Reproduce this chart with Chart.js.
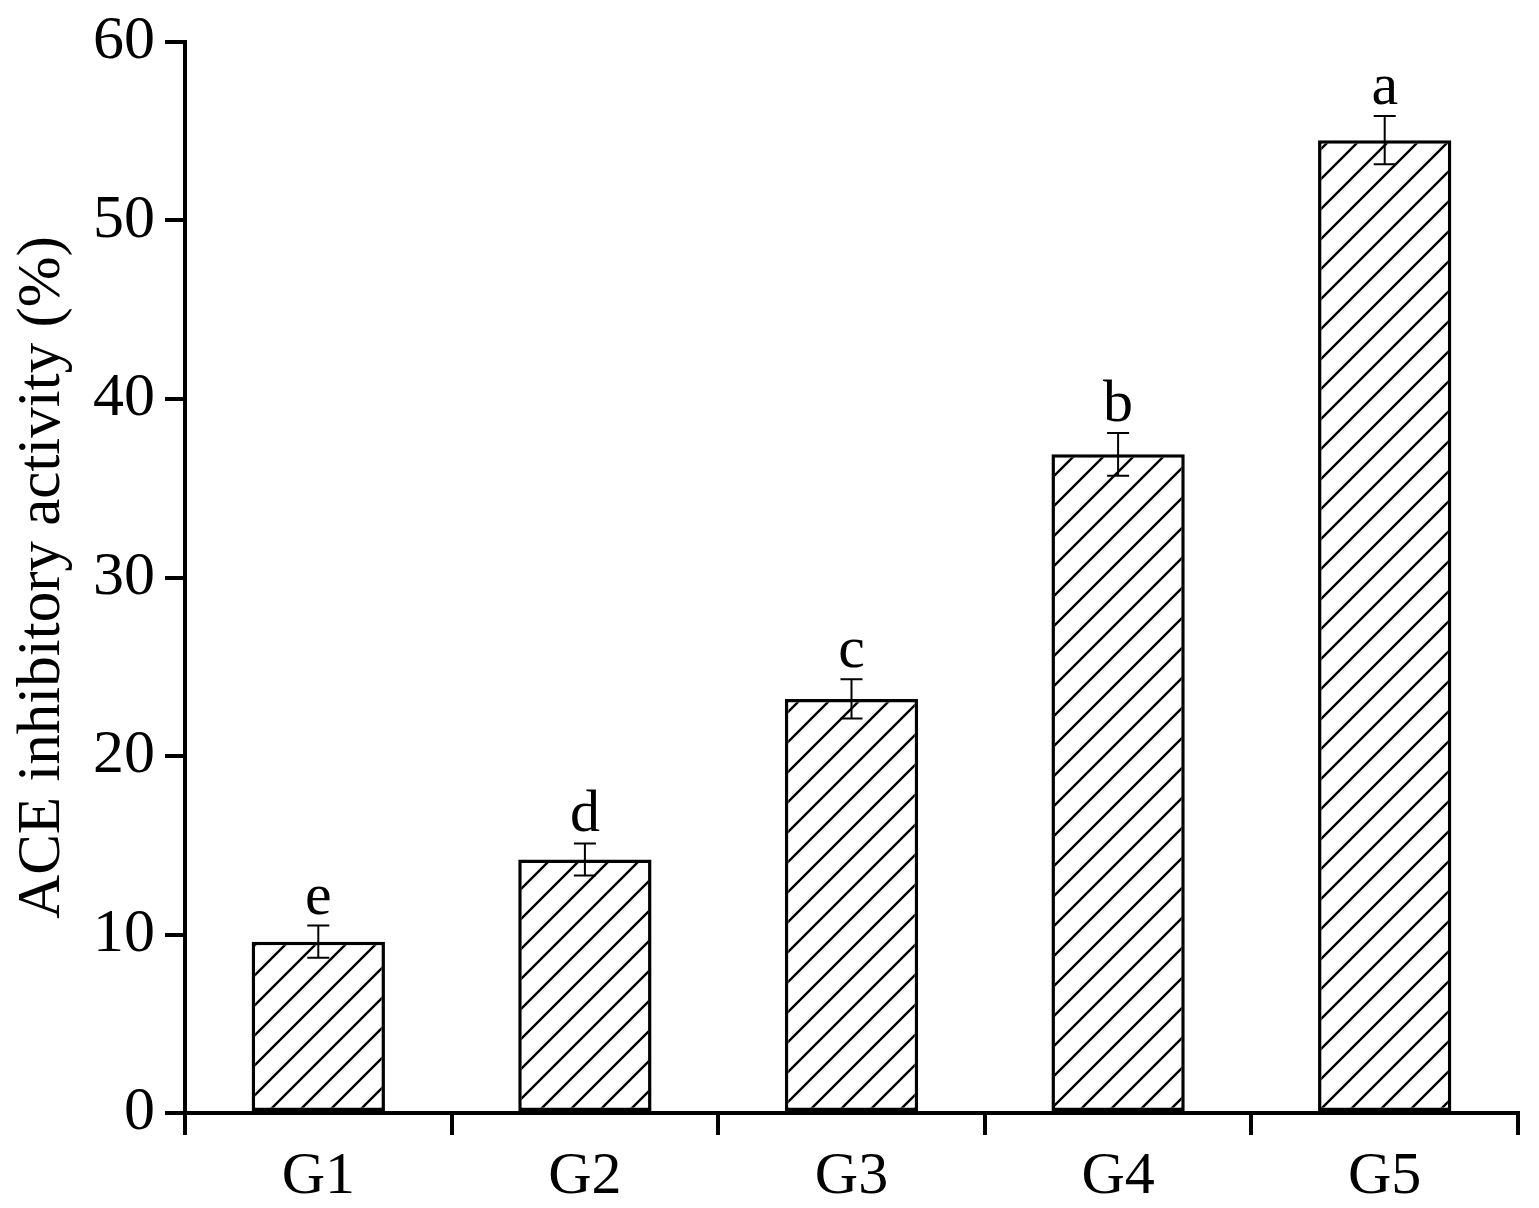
<!DOCTYPE html>
<html>
<head>
<meta charset="utf-8">
<script src="https://cdn.jsdelivr.net/npm/chart.js@4/dist/chart.umd.min.js"></script>
<style>
  html, body { margin: 0; padding: 0; background: #fff; }
  #wrap { width: 1539px; height: 1208px; }
</style>
</head>
<body>
<div id="wrap"><canvas id="chart"></canvas></div>
<script>
// data
var groups = ['G1', 'G2', 'G3', 'G4', 'G5'];
var activity = [9.6, 14.2, 23.2, 36.9, 54.5];
var errors = [0.9, 0.9, 1.1, 1.2, 1.35];
var letters = ['e', 'd', 'c', 'b', 'a'];
var yTicks = [0, 10, 20, 30, 40, 50, 60];

var FONT = '"Liberation Serif", "Times New Roman", serif';

// diagonal hatch "/" like the original
function hatch() {
  var s = 30;
  var c = document.createElement('canvas');
  c.width = s; c.height = s;
  var g = c.getContext('2d');
  g.fillStyle = '#fff';
  g.fillRect(0, 0, s, s);
  g.strokeStyle = '#000';
  g.lineWidth = 2.4;
  g.beginPath();
  g.moveTo(-2, s + 2); g.lineTo(s + 2, -2);
  g.moveTo(-2, 2); g.lineTo(2, -2);
  g.moveTo(s - 2, s + 2); g.lineTo(s + 2, s - 2);
  g.stroke();
  return g.createPattern(c, 'repeat');
}

// error bars + significance letters
var errPlugin = {
  id: 'errbars',
  afterDatasetsDraw: function(chart) {
    var ctx = chart.ctx;
    var y = chart.scales.y;
    var meta = chart.getDatasetMeta(0);
    ctx.save();
    ctx.strokeStyle = '#000';
    ctx.lineWidth = 2;
    ctx.fillStyle = '#000';
    ctx.font = '60px ' + FONT;
    ctx.textAlign = 'center';
    ctx.textBaseline = 'alphabetic';
    for (var i = 0; i < activity.length; i++) {
      var x = meta.data[i].x;
      var hi = y.getPixelForValue(activity[i] + errors[i]);
      var lo = y.getPixelForValue(activity[i] - errors[i]);
      ctx.beginPath();
      ctx.moveTo(x, hi); ctx.lineTo(x, lo);
      ctx.moveTo(x - 11, hi); ctx.lineTo(x + 11, hi);
      ctx.moveTo(x - 11, lo); ctx.lineTo(x + 11, lo);
      ctx.stroke();
      ctx.fillText(letters[i], x, hi - 12);
    }
    ctx.restore();
  }
};

new Chart(document.getElementById('chart'), {
  type: 'bar',
  data: {
    labels: groups,
    datasets: [{
      data: activity,
      backgroundColor: hatch(),
      borderColor: '#000',
      borderWidth: 3.5,
      borderSkipped: false,
      barPercentage: 0.5,
      categoryPercentage: 1.0
    }]
  },
  options: {
    responsive: true,
    maintainAspectRatio: false,
    animation: false,
    layout: { padding: { top: 42, right: 21, left: 0, bottom: 0 } },
    plugins: { legend: { display: false }, tooltip: { enabled: false } },
    scales: {
      x: {
        offset: true,
        grid: { offset: true, drawOnChartArea: false, drawTicks: true, tickLength: 22, lineWidth: 4, color: '#000' },
        border: { display: true, color: '#000', width: 4 },
        ticks: { color: '#000', padding: 6, font: { family: FONT, size: 60 } },
        afterFit: function(s) { s.height = 95; }
      },
      y: {
        min: 0, max: 60,
        afterBuildTicks: function(s) { s.ticks = yTicks.map(function(v) { return { value: v }; }); },
        grid: { drawOnChartArea: false, drawTicks: true, tickLength: 20, lineWidth: 4, color: '#000' },
        border: { display: true, color: '#000', width: 4 },
        ticks: { color: '#000', padding: 10, font: { family: FONT, size: 62, lineHeight: 1 } },
        title: { display: true, text: 'ACE inhibitory activity (%)', color: '#000', padding: { top: 6, bottom: 0 }, font: { family: FONT, size: 61 } },
        afterFit: function(s) { s.width = 185; }
      }
    }
  },
  plugins: [errPlugin]
});
</script>
</body>
</html>
